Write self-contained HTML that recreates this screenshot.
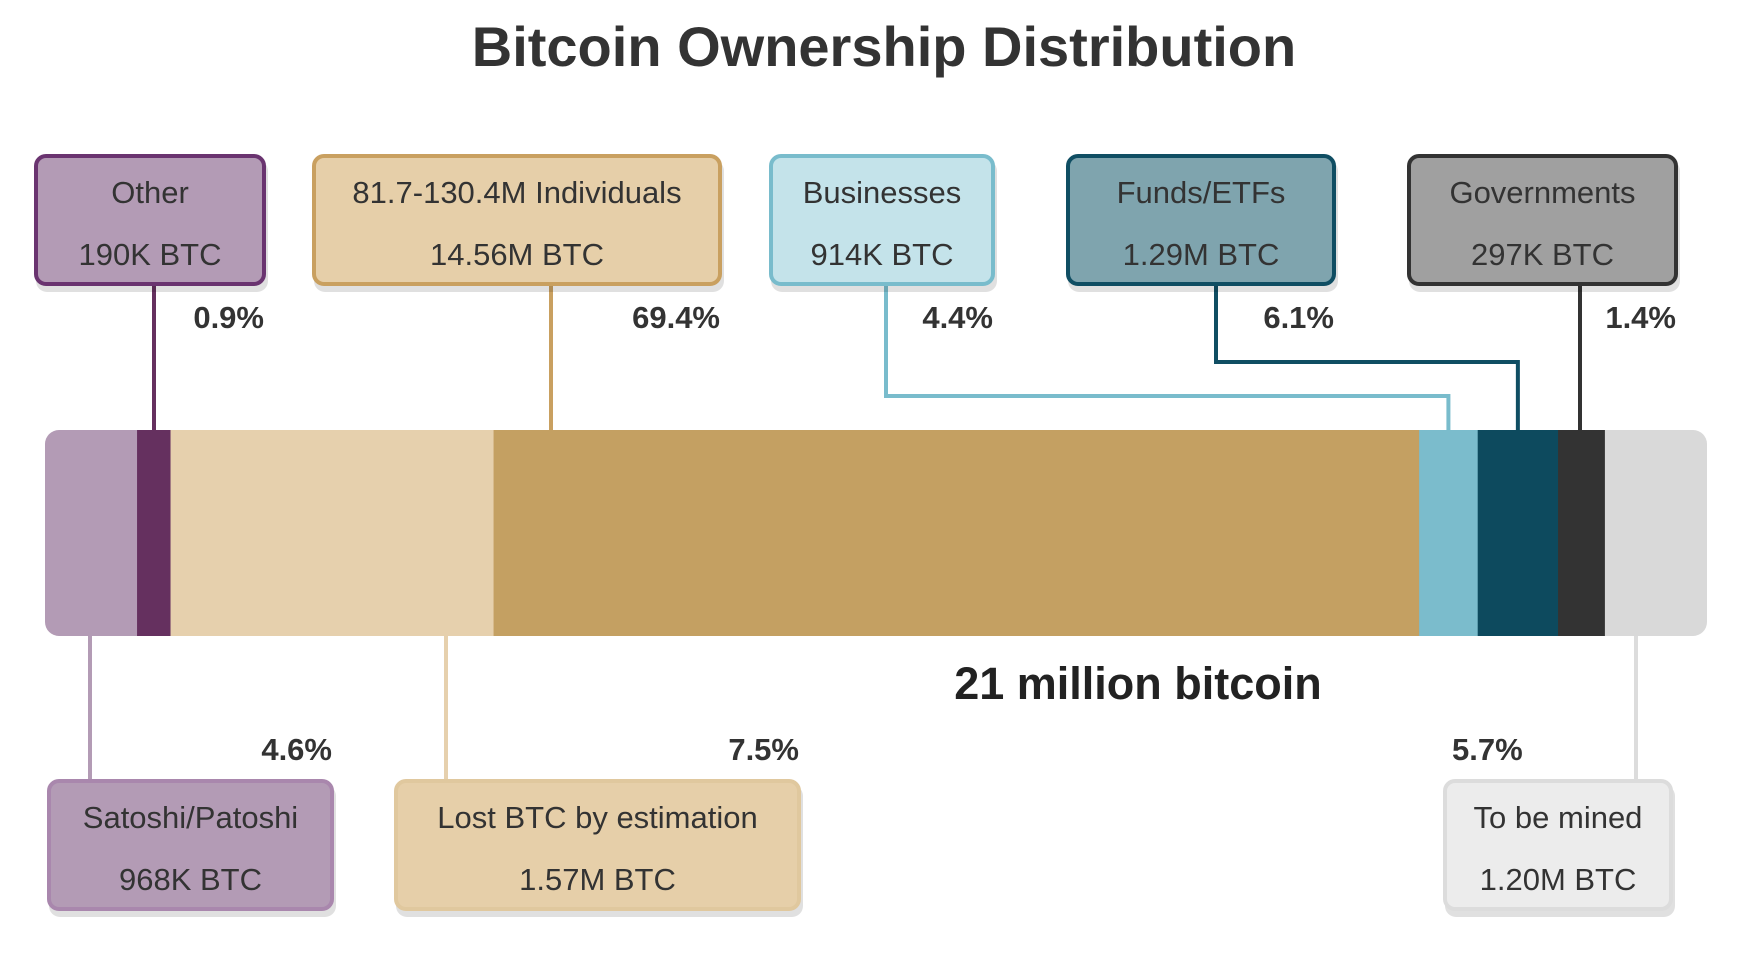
<!DOCTYPE html>
<html><head><meta charset="utf-8">
<style>
body{margin:0;background:#fff;font-family:"Liberation Sans",sans-serif;}
#wrap{position:relative;width:1740px;height:972px;overflow:hidden;}
</style></head>
<body>
<div id="wrap">
<svg id="svg" width="1740" height="972" xmlns="http://www.w3.org/2000/svg">
<text x="884" y="66" text-anchor="middle" font-size="56" font-weight="bold" fill="#333">Bitcoin Ownership Distribution</text>
<text x="1138" y="699" text-anchor="middle" font-size="45" font-weight="bold" fill="#222">21 million bitcoin</text>
</svg>
</div>
<script>
const categories=["Satoshi/Patoshi","Other","Lost BTC by estimation","81.7-130.4M Individuals","Businesses","Funds/ETFs","Governments","To be mined"];
const btcLabels=["968K BTC","190K BTC","1.57M BTC","14.56M BTC","914K BTC","1.29M BTC","297K BTC","1.20M BTC"];
const percentLabels=["4.6%","0.9%","7.5%","69.4%","4.4%","6.1%","1.4%","5.7%"];
const barShare=[5.5,2.0,19.3,55.3,3.5,4.8,2.8,6.1];
const barColors=["#b39bb5","#65305f","#e6d0ad","#c4a062","#7bbccc","#0d4a5e","#333333","#d9d9d9"];

const svg=document.getElementById('svg');
const NS="http://www.w3.org/2000/svg";
const barX0=45,barX1=1707,barY0=430,barY1=636;
const total=barShare.reduce((a,b)=>a+b,0);
function xScale(v){return barX0+(barX1-barX0)*v/total;}
function mk(tag,attrs){const e=document.createElementNS(NS,tag);for(const k in attrs)e.setAttribute(k,attrs[k]);svg.appendChild(e);return e;}

// box specs (layout only)
const boxes=[
 {i:1,x:34,w:232,y:154,fill:"#b39bb5",stroke:"#6a3470",pct:"right",line:[[154,null]]},
 {i:3,x:312,w:410,y:154,fill:"#e6cfa9",stroke:"#c9a060",pct:"right",line:[[551,null]]},
 {i:4,x:769,w:226,y:154,fill:"#c4e3ea",stroke:"#79bccc",pct:"right",elbow:[886,396]},
 {i:5,x:1066,w:270,y:154,fill:"#7fa4ae",stroke:"#104e63",pct:"right",elbow:[1216,362]},
 {i:6,x:1407,w:271,y:154,fill:"#a0a0a0",stroke:"#333333",pct:"right",line:[[1580,null]]},
 {i:0,x:47,w:287,y:779,fill:"#b39bb5",stroke:"#a987ad",pct:"right",bottom:90},
 {i:2,x:394,w:407,y:779,fill:"#e6cfa9",stroke:"#e0c89e",pct:"right",bottom:446},
 {i:7,x:1443,w:230,y:779,fill:"#ececec",stroke:"#dcdcdc",pct:"left",bottom:1636}
];
const lineColors=["#b39bb5","#65305f","#e6d0ad","#c9a060","#79bccc","#104e63","#333333","#dcdcdc"];

// bar segments
let acc=0;
const segs=[];
barShare.forEach((v,i)=>{
  const x=xScale(acc),x2=xScale(acc+v);acc+=v;segs.push([x,x2]);
});
// rounded background clip
const defs=mk('defs',{});
const cp=document.createElementNS(NS,'clipPath');cp.setAttribute('id','barclip');
const cr=document.createElementNS(NS,'rect');
cr.setAttribute('x',barX0);cr.setAttribute('y',barY0);cr.setAttribute('width',barX1-barX0);cr.setAttribute('height',barY1-barY0);cr.setAttribute('rx',14);
cp.appendChild(cr);defs.appendChild(cp);
const g=mk('g',{'clip-path':'url(#barclip)'});


segs.forEach((s,i)=>{
  const r=document.createElementNS(NS,'rect');
  r.setAttribute('x',s[0]);r.setAttribute('y',barY0);r.setAttribute('width',s[1]-s[0]+0.5);r.setAttribute('height',barY1-barY0);r.setAttribute('fill',barColors[i]);
  
  
  g.appendChild(r);
});

// connectors
boxes.forEach(b=>{
  const i=b.i,c=lineColors[i];
  const segMid=(segs[i][0]+segs[i][1])/2;
  let pts;
  if(b.bottom!==undefined){pts=[[b.bottom,barY1],[b.bottom,b.y]];}
  else if(b.elbow){pts=[[b.elbow[0],b.y+132],[b.elbow[0],b.elbow[1]],[segMid,b.elbow[1]],[segMid,barY0]];}
  else {const lx=Math.min(Math.max(b.line[0][0],segs[i][0]),segs[i][1]);pts=[[b.line[0][0],b.y+132],[b.line[0][0],barY0]];}
  const p=mk('polyline',{points:pts.map(q=>q.join(',')).join(' '),fill:'none',stroke:c,'stroke-width':4});
  
  
});

// boxes
boxes.forEach(b=>{
  const i=b.i,h=132;
  const sh=mk('rect',{x:b.x+2,y:b.y+6,width:b.w,height:h,rx:11,fill:'rgba(0,0,0,0.12)'});
  
  
  const r=mk('rect',{x:b.x+2,y:b.y+2,width:b.w-4,height:h-4,rx:10,fill:b.fill,stroke:b.stroke,'stroke-width':4});
  
  
  const t1=mk('text',{x:b.x+b.w/2,y:b.y+49,'text-anchor':'middle','font-size':31,fill:'#333'});
  t1.textContent=categories[i];
  
  
  const t2=mk('text',{x:b.x+b.w/2,y:b.y+111,'text-anchor':'middle','font-size':31,fill:'#333'});
  t2.textContent=btcLabels[i];
  
  
  const top=b.y<400;
  const py=top?b.y+174:b.y-19;
  const px=b.pct==="right"?b.x+b.w-2:b.x+9;
  const t3=mk('text',{x:px,y:py,'text-anchor':b.pct==="right"?'end':'start','font-size':31,'font-weight':'bold',fill:'#333'});
  t3.textContent=percentLabels[i];
  
  
});
</script>
</body></html>
